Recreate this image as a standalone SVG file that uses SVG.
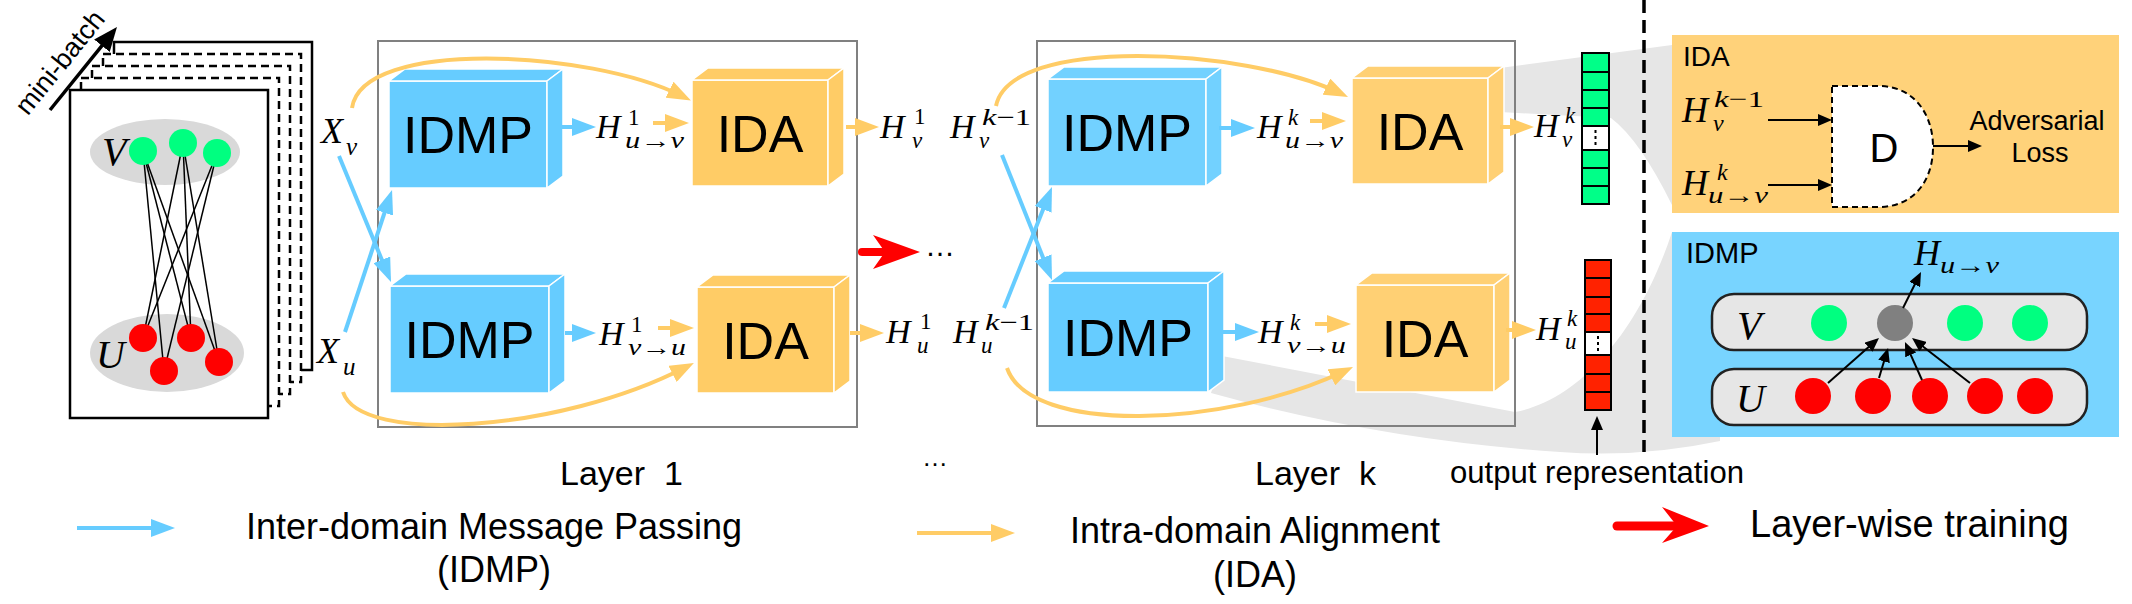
<svg xmlns="http://www.w3.org/2000/svg" width="2132" height="604" viewBox="0 0 2132 604">
<style>
.sans{font-family:"Liberation Sans",Arial,sans-serif;fill:#000}
.mh{font-family:"Liberation Serif","Times New Roman",serif;font-style:italic;font-size:34px;fill:#000}
.ms{font-family:"Liberation Serif","Times New Roman",serif;font-size:23px;fill:#000}
.it{font-style:italic}
.bx{font-family:"Liberation Sans",Arial,sans-serif;font-size:52px;text-anchor:middle;fill:#000}
.idmp path{fill:#66ccff;stroke:#fff;stroke-width:1.5}
.ida path{fill:#ffcc66;stroke:#fff;stroke-width:1.5}
.lk.idmp path{fill:#72d1ff}
.lk.ida path{fill:#ffd074}
.cb{stroke:#66ccff;stroke-width:4;fill:none}
.co{stroke:#ffcc66;stroke-width:4;fill:none}
.ck{stroke:#000;stroke-width:2;fill:none}
.page{fill:#fff;stroke:#000;stroke-width:2.5}
.dash{stroke-dasharray:8 5}
.layer{fill:none;stroke:#808080;stroke-width:2}
.edge{stroke:#000;stroke-width:1.5}
.funnel{fill:#e6e6e6}
.red{fill:#ff0000}
.grn{fill:#00ff80}
.row{fill:#e6e6e6;stroke:#222;stroke-width:2.5}
.vec{stroke:#000;stroke-width:2}
</style>
<defs>
<marker id="ab" viewBox="0 0 24 18" refX="14" refY="9" markerWidth="24" markerHeight="18" markerUnits="userSpaceOnUse" orient="auto"><path d="M0,0L24,9L0,18z" fill="#66ccff"/></marker>
<marker id="ao" viewBox="0 0 24 18" refX="14" refY="9" markerWidth="24" markerHeight="18" markerUnits="userSpaceOnUse" orient="auto"><path d="M0,0L24,9L0,18z" fill="#ffcc66"/></marker>
<marker id="ak" viewBox="0 0 14 12" refX="10" refY="6" markerWidth="14" markerHeight="12" markerUnits="userSpaceOnUse" orient="auto"><path d="M0,0L14,6L0,12z" fill="#000"/></marker>
<marker id="akb" viewBox="0 0 24 20" refX="14" refY="10" markerWidth="24" markerHeight="20" markerUnits="userSpaceOnUse" orient="auto"><path d="M0,0L24,10L0,20z" fill="#000"/></marker>
</defs>

<!-- zoom funnels -->
<g id="funnels">
<path class="funnel" d="M1500,68L1672,45L1672,205Q1640,140 1611,118L1500,112Z"/>
<path class="funnel" d="M1222,356L1515,412C1580,400 1640,330 1672,232L1720,232L1720,441Q1640,458 1560,452Q1380,440 1211,393Z"/>
</g>

<!-- mini-batch stack -->
<g id="minibatch">
<rect class="page" x="114" y="42" width="198" height="328"/>
<rect class="page dash" x="103" y="54" width="198" height="328"/>
<rect class="page dash" x="92" y="66" width="198" height="328"/>
<rect class="page dash" x="81" y="78" width="198" height="328"/>
<rect class="page" x="70" y="90" width="198" height="328"/>
<ellipse cx="165" cy="152" rx="75" ry="33" fill="#d9d9d9"/>
<ellipse cx="167" cy="353" rx="77" ry="39" fill="#d9d9d9"/>
<g class="edge">
<line x1="143" y1="151" x2="164" y2="371"/>
<line x1="143" y1="151" x2="191" y2="338"/>
<line x1="143" y1="151" x2="219" y2="362"/>
<line x1="183" y1="143" x2="143" y2="338"/>
<line x1="183" y1="143" x2="191" y2="338"/>
<line x1="183" y1="143" x2="219" y2="362"/>
<line x1="217" y1="153" x2="143" y2="338"/>
<line x1="217" y1="153" x2="164" y2="371"/>
</g>
<circle class="grn" cx="143" cy="151" r="14"/>
<circle class="grn" cx="183" cy="143" r="14"/>
<circle class="grn" cx="217" cy="153" r="14"/>
<circle class="red" cx="143" cy="338" r="14"/>
<circle class="red" cx="164" cy="371" r="14"/>
<circle class="red" cx="191" cy="338" r="14"/>
<circle class="red" cx="219" cy="362" r="14"/>
<text class="mh" x="102" y="165" style="font-size:40px">V</text>
<text class="mh" x="96" y="368" style="font-size:40px">U</text>
<text class="sans" transform="translate(67,68) rotate(-51)" text-anchor="middle" font-size="27">mini-batch</text>
</g>

<!-- inputs -->
<g id="inputs">
<text class="mh" x="321" y="143" style="font-size:36px">X</text><text class="ms it" x="346" y="155" style="font-size:25px">v</text>
<text class="mh" x="317" y="363" style="font-size:36px">X</text><text class="ms it" x="343" y="375" style="font-size:25px">u</text>
</g>

<!-- layer boxes -->
<rect id="layer1" class="layer" x="378" y="41" width="479" height="386"/>
<rect id="layerk" class="layer" x="1037" y="41" width="478" height="385"/>

<!-- layer 1 nodes -->
<g id="idmp1_top" class="idmp"><path d="M389,81h158v107h-158z"/><path d="M389,81l16-12h158l-16,12z"/><path d="M547,81l16-12v107l-16,12z"/><text class="bx" x="468" y="153">IDMP</text></g>
<g id="idmp1_bot" class="idmp"><path d="M390,286h159v107h-159z"/><path d="M390,286l16-12h159l-16,12z"/><path d="M549,286l16-12v107l-16,12z"/><text class="bx" x="469.5" y="358">IDMP</text></g>
<g id="ida1_top" class="ida"><path d="M692,80h136v106h-136z"/><path d="M692,80l16-12h136l-16,12z"/><path d="M828,80l16-12v106l-16,12z"/><text class="bx" x="760" y="152">IDA</text></g>
<g id="ida1_bot" class="ida"><path d="M697,287h137v106h-137z"/><path d="M697,287l16-12h137l-16,12z"/><path d="M834,287l16-12v106l-16,12z"/><text class="bx" x="765.5" y="359">IDA</text></g>
<!-- layer k nodes -->
<g id="idmpk_top" class="idmp lk"><path d="M1048,79h158v107h-158z"/><path d="M1048,79l16-12h158l-16,12z"/><path d="M1206,79l16-12v107l-16,12z"/><text class="bx" x="1127" y="151">IDMP</text></g>
<g id="idmpk_bot" class="idmp"><path d="M1048,283h160v109h-160z"/><path d="M1048,283l16-12h160l-16,12z"/><path d="M1208,283l16-12v109l-16,12z"/><text class="bx" x="1128" y="356">IDMP</text></g>
<g id="idak_top" class="ida lk"><path d="M1352,78h136v106h-136z"/><path d="M1352,78l16-12h136l-16,12z"/><path d="M1488,78l16-12v106l-16,12z"/><text class="bx" x="1420" y="150">IDA</text></g>
<g id="idak_bot" class="ida lk"><path d="M1356,285h138v107h-138z"/><path d="M1356,285l16-12h138l-16,12z"/><path d="M1494,285l16-12v107l-16,12z"/><text class="bx" x="1425" y="357">IDA</text></g>

<!-- math labels -->
<g id="labels">
<text class="mh" x="596" y="138">H</text><text class="ms" x="628" y="125">1</text><text class="ms" x="625" y="148" textLength="59" lengthAdjust="spacingAndGlyphs"><tspan class="it">u</tspan>→<tspan class="it">v</tspan></text>
<text class="mh" x="599" y="345">H</text><text class="ms" x="631" y="332">1</text><text class="ms" x="628" y="355" textLength="58" lengthAdjust="spacingAndGlyphs"><tspan class="it">v</tspan>→<tspan class="it">u</tspan></text>
<text class="mh" x="880" y="138">H</text><text class="ms" x="914" y="124">1</text><text class="ms it" x="912" y="148">v</text>
<text class="mh" x="886" y="343">H</text><text class="ms" x="920" y="329">1</text><text class="ms it" x="917" y="353">u</text>
<text class="mh" x="950" y="138">H</text><text class="ms" x="982" y="125" textLength="49" lengthAdjust="spacingAndGlyphs"><tspan class="it">k</tspan>−1</text><text class="ms it" x="979" y="148">v</text>
<text class="mh" x="953" y="343">H</text><text class="ms" x="985" y="330" textLength="49" lengthAdjust="spacingAndGlyphs"><tspan class="it">k</tspan>−1</text><text class="ms it" x="981" y="353">u</text>
<text class="mh" x="1257" y="138">H</text><text class="ms it" x="1288" y="125">k</text><text class="ms" x="1285" y="148" textLength="58" lengthAdjust="spacingAndGlyphs"><tspan class="it">u</tspan>→<tspan class="it">v</tspan></text>
<text class="mh" x="1258" y="343">H</text><text class="ms it" x="1290" y="330">k</text><text class="ms" x="1287" y="353" textLength="59" lengthAdjust="spacingAndGlyphs"><tspan class="it">v</tspan>→<tspan class="it">u</tspan></text>
<text class="mh" x="1534" y="137">H</text><text class="ms it" x="1565" y="123">k</text><text class="ms it" x="1562" y="147">v</text>
<text class="mh" x="1536" y="340">H</text><text class="ms it" x="1567" y="326">k</text><text class="ms it" x="1565" y="349">u</text>
<text class="sans" x="925" y="256" font-size="30">…</text>
</g>

<!-- output vectors -->
<g id="vec_v">
<rect x="1582" y="53" width="27" height="151" fill="#00ff88" class="vec"/>
<rect x="1582" y="126" width="27" height="24" fill="#fff" class="vec"/>
<path class="vec" d="M1582,72h27M1582,90h27M1582,108h27M1582,168h27M1582,186h27"/>
<line x1="1595.5" y1="130" x2="1595.5" y2="147" stroke="#000" stroke-width="2" stroke-dasharray="3 3"/>
</g>
<g id="vec_u">
<rect x="1585" y="260" width="26" height="150" fill="#ff2200" class="vec"/>
<rect x="1585" y="332" width="26" height="23" fill="#fff" class="vec"/>
<path class="vec" d="M1585,278h26M1585,297h26M1585,314h26M1585,374h26M1585,392h26"/>
<line x1="1598" y1="336" x2="1598" y2="352" stroke="#000" stroke-width="2" stroke-dasharray="3 3"/>
</g>

<!-- divider -->
<line x1="1644" y1="0" x2="1644" y2="452" stroke="#000" stroke-width="3.5" stroke-dasharray="13 7"/>

<!-- IDA panel -->
<g id="panel_ida">
<rect x="1672" y="35" width="447" height="178" fill="#ffd27a"/>
<text class="sans" x="1683" y="66" font-size="28">IDA</text>
<path d="M1832,86L1882,86C1915,88 1933,115 1933,147C1933,180 1915,205 1882,207L1832,207Z" fill="#fff" stroke="#000" stroke-width="2" stroke-dasharray="6 4"/>
<text class="sans" x="1884" y="162" font-size="40" text-anchor="middle">D</text>
<text class="mh" x="1682" y="122" style="font-size:36px">H</text><text class="ms" x="1714" y="107" textLength="50" lengthAdjust="spacingAndGlyphs" style="font-size:24px"><tspan class="it">k</tspan>−1</text><text class="ms it" x="1713" y="131" style="font-size:24px">v</text>
<text class="mh" x="1682" y="195" style="font-size:36px">H</text><text class="ms it" x="1717" y="180" style="font-size:24px">k</text><text class="ms" x="1708" y="203" textLength="60" lengthAdjust="spacingAndGlyphs" style="font-size:24px"><tspan class="it">u</tspan>→<tspan class="it">v</tspan></text>
<text class="sans" x="2037" y="130" font-size="27" text-anchor="middle">Adversarial</text>
<text class="sans" x="2040" y="162" font-size="27" text-anchor="middle">Loss</text>
</g>

<!-- IDMP panel -->
<g id="panel_idmp">
<rect x="1672" y="232" width="447" height="205" fill="#78d4ff"/>
<text class="sans" x="1686" y="263" font-size="29">IDMP</text>
<text class="mh" x="1914" y="265" style="font-size:36px">H</text><text class="ms" x="1940" y="273" textLength="59" lengthAdjust="spacingAndGlyphs" style="font-size:24px"><tspan class="it">u</tspan>→<tspan class="it">v</tspan></text>
<rect class="row" x="1712" y="294" width="375" height="56" rx="22"/>
<rect class="row" x="1712" y="369" width="375" height="56" rx="22"/>
<text class="mh" x="1737" y="339" style="font-size:40px">V</text>
<text class="mh" x="1736" y="412" style="font-size:40px">U</text>
<circle class="grn" cx="1829" cy="323" r="18"/>
<circle cx="1895" cy="323" r="18" fill="#808080"/>
<circle class="grn" cx="1965" cy="323" r="18"/>
<circle class="grn" cx="2030" cy="323" r="18"/>
<circle class="red" cx="1813" cy="396" r="18"/>
<circle class="red" cx="1873" cy="396" r="18"/>
<circle class="red" cx="1930" cy="396" r="18"/>
<circle class="red" cx="1985" cy="396" r="18"/>
<circle class="red" cx="2035" cy="396" r="18"/>
</g>

<!-- captions -->
<g id="captions">
<text class="sans" x="560" y="485" font-size="34" xml:space="preserve">Layer  1</text>
<text class="sans" x="1255" y="485" font-size="34" xml:space="preserve">Layer  k</text>
<text class="sans" x="922" y="466" font-size="26">…</text>
<text class="sans" x="1450" y="483" font-size="31" textLength="294" lengthAdjust="spacingAndGlyphs">output representation</text>
</g>

<!-- connectors -->
<g id="connectors">
<line x1="50" y1="110" x2="110.7" y2="34.8" stroke="#000" stroke-width="3.5" marker-end="url(#akb)"/>
<line class="cb" x1="339" y1="156" x2="387.2" y2="272.8" marker-end="url(#ab)"/>
<line class="cb" x1="345" y1="332" x2="388.9" y2="199.5" marker-end="url(#ab)"/>
<line class="cb" x1="1002" y1="155" x2="1048.3" y2="270.7" marker-end="url(#ab)"/>
<line class="cb" x1="1004" y1="308" x2="1048.3" y2="196.3" marker-end="url(#ab)"/>
<path class="co" d="M352,108C362,38 590,50 682,96" marker-end="url(#ao)"/>
<path class="co" d="M343,392C360,445 560,432 685,367.5" marker-end="url(#ao)"/>
<path class="co" d="M996,106C1010,35 1245,48 1339,92.7" marker-end="url(#ao)"/>
<path class="co" d="M1007,368C1030,435 1225,428 1344,371.3" marker-end="url(#ao)"/>
<line class="cb" x1="561" y1="127" x2="586" y2="127" marker-end="url(#ab)"/>
<line class="cb" x1="565" y1="333" x2="586" y2="333" marker-end="url(#ab)"/>
<line class="cb" x1="1219" y1="128" x2="1245" y2="128" marker-end="url(#ab)"/>
<line class="cb" x1="1223" y1="332" x2="1249" y2="332" marker-end="url(#ab)"/>
<line class="co" x1="653" y1="123" x2="679" y2="123" marker-end="url(#ao)"/>
<line class="co" x1="658" y1="328" x2="684" y2="328" marker-end="url(#ao)"/>
<line class="co" x1="1310" y1="121" x2="1336" y2="121" marker-end="url(#ao)"/>
<line class="co" x1="1315" y1="324" x2="1341" y2="324" marker-end="url(#ao)"/>
<line class="co" x1="846" y1="127" x2="869" y2="127" marker-end="url(#ao)"/>
<line class="co" x1="850" y1="333" x2="874" y2="333" marker-end="url(#ao)"/>
<line class="co" x1="1500" y1="127" x2="1524" y2="127" marker-end="url(#ao)"/>
<line class="co" x1="1506" y1="330" x2="1526" y2="330" marker-end="url(#ao)"/>
<line class="ck" x1="1597" y1="455" x2="1597" y2="420" marker-end="url(#ak)"/>
<line class="ck" x1="1768" y1="120" x2="1828" y2="120" marker-end="url(#ak)"/>
<line class="ck" x1="1768" y1="185" x2="1828" y2="185" marker-end="url(#ak)"/>
<line class="ck" x1="1933" y1="146" x2="1978" y2="146" marker-end="url(#ak)"/>
<line class="ck" x1="1828" y1="383" x2="1876" y2="340.6" marker-end="url(#ak)"/>
<line class="ck" x1="1879" y1="378" x2="1886.9" y2="351.8" marker-end="url(#ak)"/>
<line class="ck" x1="1922" y1="380" x2="1906.6" y2="345.7" marker-end="url(#ak)"/>
<line class="ck" x1="1970" y1="383" x2="1915.2" y2="340.5" marker-end="url(#ak)"/>
<line class="ck" x1="1903" y1="308" x2="1919.2" y2="275.6" marker-end="url(#ak)"/>
<line x1="862" y1="252" x2="888" y2="252" stroke="#ff0000" stroke-width="8" stroke-linecap="round"/>
<path class="red" d="M920,252L873,235L885,252L873,269Z"/>
</g>

<!-- legend -->
<g id="legend">
<line class="cb" x1="77" y1="528" x2="165" y2="528" stroke-width="4.5" marker-end="url(#ab)"/>
<text class="sans" x="494" y="539" font-size="36" text-anchor="middle">Inter-domain Message Passing</text>
<text class="sans" x="494" y="582" font-size="36" text-anchor="middle">(IDMP)</text>
<line class="co" x1="917" y1="533" x2="1005" y2="533" stroke-width="4.5" marker-end="url(#ao)"/>
<text class="sans" x="1255" y="543" font-size="36" text-anchor="middle">Intra-domain Alignment</text>
<text class="sans" x="1255" y="587" font-size="36" text-anchor="middle">(IDA)</text>
<line x1="1617" y1="526" x2="1680" y2="526" stroke="#ff0000" stroke-width="9" stroke-linecap="round"/>
<path class="red" d="M1709,526L1662,507L1677,526L1662,543Z"/>
<text class="sans" x="1750" y="537" font-size="38">Layer-wise training</text>
</g>
</svg>
